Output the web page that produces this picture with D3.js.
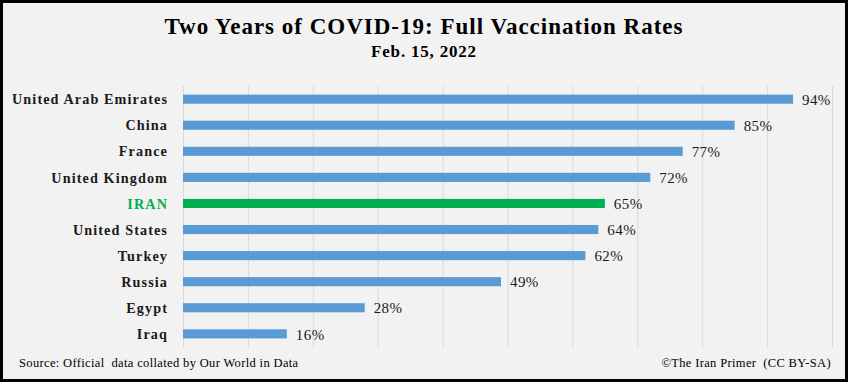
<!DOCTYPE html>
<html><head><meta charset="utf-8">
<script src="https://cdn.jsdelivr.net/npm/d3@7"></script>
<style>body{margin:0;background:#fff}svg{display:block}</style>
</head><body>
<svg id="c" width="848" height="382"></svg>
<script>
const countries = ["United Arab Emirates","China","France","United Kingdom","IRAN","United States","Turkey","Russia","Egypt","Iraq"];
const rates = [94,85,77,72,65,64,62,49,28,16];
const highlight = "IRAN";
const xTicks = [0,10,20,30,40,50,60,70,80,90,100];
const title = "Two Years of COVID-19: Full Vaccination Rates";
const subtitle = "Feb. 15, 2022";
const sourceText = "Source: Official  data collated by Our World in Data";
const creditText = "©The Iran Primer  (CC BY-SA)";

const svg = d3.select("#c");
const W = 848, H = 382;
const serif = "'Book Antiqua','Palatino Linotype',Palatino,'Liberation Serif','DejaVu Serif',serif";
svg.append("rect").attr("x",1.5).attr("y",1.5).attr("width",W-3).attr("height",H-3)
  .attr("fill","#f2f2f2").attr("stroke","#000").attr("stroke-width",3);

const x = d3.scaleLinear().domain([0,100]).range([183,832]);
const y = d3.scaleBand().domain(countries).range([86,347]).paddingInner(0.65).paddingOuter(0.33);

svg.append("g").selectAll("line").data(xTicks).join("line")
  .attr("x1",d=>x(d)+0.5).attr("x2",d=>x(d)+0.5).attr("y1",86).attr("y2",347)
  .attr("stroke","#d9d9d9").attr("stroke-width",1);

svg.append("g").selectAll("rect").data(countries).join("rect")
  .attr("x",x(0)).attr("y",d=>y(d)).attr("height",y.bandwidth())
  .attr("width",(d,i)=>x(rates[i])-x(0))
  .attr("fill",d=>d===highlight?"#00b050":"#5b9bd5");

svg.append("g").selectAll("text").data(countries).join("text")
  .attr("x",168).attr("y",d=>y(d)+y.bandwidth()/2).attr("dy","0.36em")
  .attr("text-anchor","end").attr("font-family",serif).attr("font-weight","bold")
  .attr("font-size",14.2).attr("letter-spacing",1.1)
  .attr("fill",d=>d===highlight?"#00b050":"#1a1a1a").text(d=>d);

svg.append("g").selectAll("text").data(countries).join("text")
  .attr("x",(d,i)=>x(rates[i])+9).attr("y",d=>y(d)+y.bandwidth()/2).attr("dy","0.38em")
  .attr("font-family",serif).attr("font-size",15).attr("letter-spacing",0.4).attr("fill","#1a1a1a")
  .text((d,i)=>rates[i]+"%");

svg.append("text").attr("x",424).attr("y",34).attr("text-anchor","middle")
  .attr("font-family",serif).attr("font-weight","bold").attr("font-size",23).attr("letter-spacing",1)
  .text(title);
svg.append("text").attr("x",424).attr("y",57).attr("text-anchor","middle")
  .attr("font-family",serif).attr("font-weight","bold").attr("font-size",17).attr("letter-spacing",0.8)
  .text(subtitle);

svg.append("text").attr("x",19).attr("y",367).attr("font-family",serif)
  .attr("font-size",12.5).attr("letter-spacing",0.35).style("white-space","pre").text(sourceText);
svg.append("text").attr("x",831).attr("y",367).attr("text-anchor","end").attr("font-family",serif)
  .attr("font-size",12.5).attr("letter-spacing",0.35).style("white-space","pre").text(creditText);
</script>
</body></html>
